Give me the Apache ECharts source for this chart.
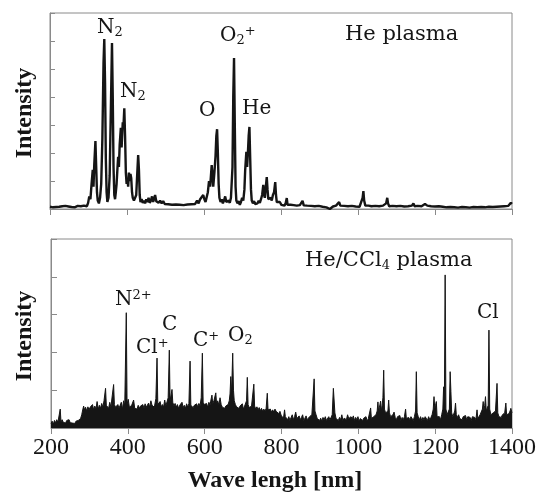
<!DOCTYPE html>
<html>
<head>
<meta charset="utf-8">
<script src="https://cdn.jsdelivr.net/npm/echarts@6/dist/echarts.min.js"></script>
<style>
html,body{margin:0;padding:0;background:#fff;}
#chart{width:539px;height:493px;}
</style>
</head>
<body>
<div id="chart"></div>
<script>
// wavelength ticks (nm)
var waveTicks = [200, 400, 600, 800, 1000, 1200, 1400];

// He plasma spectrum [wavelength nm, intensity a.u.]
var heSpectrum = [
  [200,0.08],[204,0.11],[208,0.06],[212,0.1],[216,0.07],[220,0.12],[224,0.08],[228,0.05],[232,0.1],[236,0.07],
  [240,0.11],[244,0.06],[248,0.09],[252,0.12],[256,0.07],[260,0.1],[264,0.06],[268,0.09],[272,0.11],[276,0.07],
  [280,0.1],[284,0.08],[288,0.12],[292,0.07],[296,0.1],[299,0.22],[302,0.45],[305,0.35],[308,0.9],[311,1.4],
  [313,0.8],[315,1.6],[318,2.43],[320,1.5],[322,0.6],[324,0.3],[327,0.2],[330,0.4],[333,0.9],[336,2.5],
  [339,5.2],[341,6.07],[343,4.5],[345,1.8],[347,0.6],[349,0.25],[352,0.4],[355,1.2],[358,3.5],[361,5.93],
  [363,4.0],[365,1.5],[367,0.5],[369,0.35],[371,0.6],[373,0.9],[375,1.4],[377,1.86],[379,1.5],[381,2.3],
  [384,2.9],[386,2.2],[389,3.1],[391,3.0],[393,3.6],[395,2.6],[397,1.3],[399,0.9],[401,1.1],[403,0.8],
  [405,1.3],[407,1.0],[409,1.25],[411,1.1],[413,0.6],[415,0.4],[418,0.3],[421,0.35],[424,0.5],[426,1.1],
  [429,1.93],[431,1.4],[433,0.5],[435,0.25],[438,0.35],[441,0.22],[444,0.3],[447,0.2],[450,0.35],[453,0.25],
  [456,0.4],[459,0.22],[462,0.3],[465,0.45],[468,0.25],[473,0.5],[476,0.28],[479,0.35],[482,0.22],[486,0.3],
  [490,0.2],[494,0.28],[498,0.18],[502,0.25],[507,0.17],[512,0.22],[517,0.15],[522,0.2],[527,0.16],[532,0.22],
  [537,0.15],[542,0.18],[547,0.14],[552,0.2],[557,0.16],[562,0.22],[567,0.17],[572,0.24],[577,0.18],[582,0.3],
  [586,0.2],[590,0.35],[594,0.3],[598,0.5],[601,0.35],[604,0.25],[607,0.3],[610,0.6],[613,1.0],[616,0.8],
  [620,1.57],[622,1.2],[624,0.8],[627,1.3],[630,1.9],[632,2.6],[634,2.85],[636,2.0],[638,0.9],[640,0.4],
  [643,0.25],[646,0.35],[649,0.2],[652,0.3],[655,0.45],[658,0.25],[661,0.2],[664,0.3],[667,0.22],[670,0.4],
  [674,1.5],[676,4.0],[678,5.39],[680,3.0],[682,0.8],[684,0.3],[687,0.2],[690,0.28],[693,0.15],[696,0.25],
  [699,0.4],[702,0.3],[705,0.7],[707,1.4],[710,2.04],[712,1.5],[714,2.0],[716,2.6],[718,2.93],[720,1.8],
  [722,0.7],[724,0.3],[727,0.2],[730,0.28],[733,0.18],[736,0.25],[739,0.2],[742,0.3],[745,0.22],[748,0.35],
  [751,0.5],[754,0.86],[756,0.5],[758,0.4],[760,0.7],[763,1.14],[765,0.7],[767,0.35],[770,0.3],[773,0.4],
  [776,0.3],[779,0.5],[782,0.6],[785,0.96],[787,0.5],[789,0.25],[793,0.2],[797,0.25],[801,0.15],[805,0.2],
  [809,0.12],[812,0.2],[815,0.39],[817,0.15],[821,0.12],[825,0.15],[829,0.1],[833,0.14],[837,0.09],[841,0.12],
  [845,0.1],[849,0.14],[853,0.18],[856,0.29],[859,0.13],[863,0.1],[868,0.12],[873,0.08],[878,0.11],[883,0.08],
  [888,0.1],[893,0.07],[898,0.11],[903,0.13],[908,0.08],[913,0.1],[918,0.06],[923,0.02],[927,0],[931,0.05],
  [935,0.09],[939,0.07],[943,0.12],[947,0.18],[951,0.25],[954,0.12],[959,0.09],[964,0.11],[969,0.07],[974,0.1],
  [979,0.08],[984,0.11],[989,0.07],[994,0.09],[999,0.12],[1004,0.08],[1009,0.15],[1012,0.4],[1014,0.64],[1016,0.3],
  [1019,0.12],[1023,0.09],[1027,0.12],[1031,0.07],[1035,0.1],[1040,0.08],[1045,0.11],[1050,0.07],[1055,0.1],[1060,0.08],
  [1065,0.12],[1070,0.09],[1073,0.2],[1076,0.4],[1078,0.2],[1081,0.1],[1085,0.08],[1090,0.11],[1095,0.07],[1100,0.1],
  [1105,0.08],[1110,0.11],[1115,0.06],[1120,0.09],[1125,0.07],[1130,0.1],[1135,0.08],[1140,0.12],[1144,0.2],[1147,0.1],
  [1151,0.08],[1155,0.11],[1160,0.07],[1165,0.1],[1170,0.12],[1174,0.18],[1177,0.25],[1180,0.12],[1185,0.08],[1190,0.1],
  [1195,0.06],[1200,0.09],[1205,0.07],[1210,0.1],[1215,0.05],[1220,0.08],[1225,0.1],[1230,0.06],[1235,0.09],[1240,0.07],
  [1245,0.1],[1250,0.06],[1255,0.08],[1260,0.05],[1265,0.09],[1270,0.07],[1275,0.1],[1280,0.06],[1285,0.08],[1290,0.05],
  [1295,0.09],[1300,0.07],[1305,0.1],[1310,0.06],[1315,0.09],[1320,0.07],[1325,0.1],[1330,0.06],[1335,0.09],[1340,0.08],
  [1345,0.11],[1350,0.07],[1355,0.1],[1360,0.08],[1365,0.12],[1370,0.09],[1375,0.13],[1380,0.1],[1385,0.14],[1390,0.11],
  [1394,0.16],[1397,0.22],[1400,0.18]
];

// He/CCl4 plasma spectrum [wavelength nm, intensity a.u.]
var ccl4Spectrum = [
  [200,0.12],[203,0.18],[206,0.1],[209,0.2],[212,0.14],[215,0.22],[218,0.15],[221,0.2],[224,0.5],[226,0.16],
  [229,0.22],[232,0.15],[235,0.18],[238,0.13],[241,0.2],[244,0.16],[247,0.22],[250,0.14],[253,0.19],[256,0.13],
  [259,0.17],[262,0.12],[265,0.18],[268,0.14],[271,0.2],[274,0.16],[277,0.25],
  [280,0.35],[283,0.5],[285,0.58],[287,0.48],[290,0.55],[293,0.45],[296,0.56],[299,0.48],[302,0.55],[305,0.5],
  [308,0.62],[311,0.48],[314,0.58],[317,0.5],[320,0.7],[323,0.5],[326,0.6],[329,0.52],[332,0.65],[335,0.55],
  [338,0.72],[342,1.05],[344,0.6],[347,0.62],[350,0.52],[353,0.68],[356,0.55],[359,0.82],[363,1.15],[365,0.62],
  [368,0.55],[371,0.5],[374,0.62],[377,0.52],[380,0.6],[383,0.68],[386,0.5],[389,0.72],[392,0.6],[396,3.05],
  [398,0.62],[401,0.76],[404,0.55],[407,0.52],[410,0.6],[413,0.55],[415,0.74],[418,0.52],[421,0.56],[424,0.5],
  [427,0.6],[430,0.52],[433,0.58],[436,0.54],[439,0.62],[442,0.52],[445,0.64],[448,0.55],[451,0.6],[454,0.66],
  [457,0.55],[460,0.72],[463,0.6],[466,0.64],[469,0.55],[473,0.78],[476,1.85],[478,0.62],[481,0.58],[484,0.7],
  [487,0.56],[490,0.62],[493,0.55],[496,0.74],[499,0.58],[502,0.62],[505,0.8],[508,2.06],[510,0.72],[513,0.76],
  [515,1.02],[517,0.68],[520,0.58],[523,0.65],[526,0.55],[529,0.62],[532,0.52],[535,0.6],[538,0.55],[541,0.68],
  [544,0.54],[547,0.6],[550,0.52],[553,0.64],[556,0.55],[559,0.65],[562,1.77],[564,0.6],[567,0.62],[570,0.54],
  [573,0.6],[576,0.55],[579,0.64],[582,0.56],[585,0.65],[588,0.58],[591,0.8],[594,1.98],[596,0.68],[599,0.62],
  [602,0.58],[605,0.65],[608,0.55],[611,0.68],[614,0.6],[617,0.78],[619,0.87],[621,0.64],[624,0.72],[627,0.68],
  [629,0.93],[631,0.64],[634,0.72],[637,0.6],[640,0.8],[643,0.62],[646,0.55],[649,0.6],[652,0.52],[655,0.58],
  [658,0.54],[661,0.62],[664,0.72],[666,0.9],[668,1.36],[670,0.9],[673,1.98],[675,1.0],[677,0.72],[680,0.62],
  [683,0.56],[686,0.6],[689,0.52],[692,0.58],[695,0.54],[698,0.64],[701,0.5],[704,0.58],[707,0.54],[709,0.72],
  [711,1.34],[713,0.62],[716,0.54],[719,0.5],[722,0.58],[725,0.62],[728,1.16],[730,0.58],[733,0.5],[736,0.56],
  [739,0.48],[742,0.54],[745,0.46],[748,0.52],[751,0.44],[754,0.5],[757,0.44],[760,0.52],[763,0.92],[765,0.48],
  [768,0.44],[771,0.5],[774,0.42],[777,0.48],[780,0.42],[783,0.5],[786,0.44],[790,0.48],[793,0.38],[796,0.44],
  [799,0.34],[802,0.38],[805,0.25],[808,0.48],[810,0.3],[813,0.35],[816,0.22],[819,0.3],[822,0.2],[825,0.28],
  [828,0.35],[831,0.22],[834,0.3],[837,0.42],[840,0.25],[843,0.2],[846,0.32],[849,0.22],[852,0.28],[855,0.35],
  [858,0.2],[861,0.26],[864,0.32],[867,0.22],[870,0.18],[873,0.3],[876,0.25],[879,0.35],[882,0.4],[885,1.3],
  [887,0.45],[890,0.35],[893,0.25],[896,0.3],[899,0.2],[902,0.26],[905,0.18],[908,0.28],[911,0.22],[914,0.3],
  [917,0.2],[920,0.25],[923,0.3],[926,0.22],[929,0.28],[932,0.35],[935,1.05],[937,1.09],[939,0.4],[942,0.25],
  [945,0.3],[948,0.2],[951,0.28],[954,0.22],[957,0.35],[960,0.2],[963,0.26],[966,0.3],[969,0.22],[972,0.35],
  [975,0.25],[978,0.2],[981,0.3],[984,0.24],[987,0.32],[990,0.2],[993,0.28],[996,0.22],[999,0.3],[1002,0.18],
  [1005,0.25],[1008,0.3],[1011,0.2],[1014,0.26],[1017,0.22],[1020,0.3],[1023,0.18],[1026,0.25],[1029,0.2],[1032,0.53],
  [1034,0.25],[1037,0.2],[1040,0.3],[1043,0.25],[1046,0.35],[1049,0.45],[1051,0.69],[1053,0.4],[1055,0.55],[1058,0.71],
  [1060,0.45],[1062,0.6],[1064,0.8],[1066,1.53],[1068,0.5],[1071,0.4],[1074,0.35],[1077,0.45],[1079,0.74],[1081,0.4],
  [1084,0.3],[1087,0.25],[1090,0.35],[1093,0.42],[1096,0.28],[1099,0.22],[1102,0.3],[1105,0.25],[1108,0.33],[1111,0.2],
  [1114,0.28],[1117,0.22],[1120,0.3],[1123,0.5],[1125,0.25],[1128,0.2],[1131,0.28],[1134,0.22],[1137,0.3],[1140,0.25],
  [1143,0.2],[1146,0.3],[1149,0.45],[1151,1.49],[1153,0.4],[1156,0.3],[1159,0.22],[1162,0.3],[1165,0.2],[1168,0.28],
  [1171,0.22],[1174,0.3],[1177,0.25],[1180,0.2],[1183,0.3],[1186,0.22],[1189,0.28],[1192,0.35],[1195,0.5],[1197,0.83],
  [1199,0.5],[1201,0.6],[1203,0.7],[1205,0.3],[1208,0.25],[1211,0.3],[1214,0.22],[1217,0.35],[1220,0.5],[1222,1.09],
  [1224,0.6],[1226,4.05],[1228,0.5],[1231,0.35],[1234,0.3],[1237,0.5],[1239,1.49],[1241,0.96],[1243,0.4],[1246,0.3],
  [1249,0.35],[1251,0.45],[1253,0.66],[1255,0.35],[1258,0.28],[1261,0.35],[1264,0.25],[1267,0.3],[1270,0.22],[1273,0.3],
  [1276,0.25],[1279,0.33],[1282,0.22],[1285,0.3],[1288,0.25],[1291,0.28],[1294,0.2],[1297,0.3],[1300,0.25],[1303,0.28],
  [1306,0.22],[1309,0.48],[1311,0.25],[1314,0.3],[1317,0.35],[1320,0.4],[1323,0.5],[1325,0.7],[1327,0.45],[1329,0.6],
  [1331,0.83],[1333,0.45],[1336,0.5],[1338,0.6],[1340,2.59],[1342,0.5],[1345,0.35],[1348,0.3],[1351,0.4],[1354,0.35],
  [1357,0.45],[1359,0.5],[1361,1.18],[1363,0.4],[1366,0.3],[1369,0.35],[1372,0.28],[1375,0.35],[1378,0.3],[1381,0.4],
  [1384,0.66],[1386,0.35],[1389,0.3],[1392,0.38],[1395,0.45],[1397,0.52],[1400,0.4]
];

var frameColor = '#8a8a8a';
var ink = '#151515';
var serifLbl = 'DejaVu Serif';

var rich = {
  m: {fontFamily: serifLbl, fontSize: 20, lineHeight: 22, color: ink},
  sub: {fontFamily: serifLbl, fontSize: 13, verticalAlign: 'bottom', color: ink},
  sup: {fontFamily: serifLbl, fontSize: 13, verticalAlign: 'top', color: ink},
  p: {fontFamily: serifLbl, fontSize: 21, lineHeight: 22, color: ink}
};

function lbl(x, y, txt) {
  return {
    type: 'text', x: x, y: y, silent: true,
    style: {text: txt, rich: rich, align: 'left', verticalAlign: 'middle', fill: ink}
  };
}

function axisTitle(x, y, txt, rot) {
  return {
    type: 'text', x: x, y: y, rotation: rot || 0, silent: true,
    style: {
      text: txt, fill: ink, align: 'center', verticalAlign: 'middle',
      font: 'bold 24px "Liberation Serif"'
    }
  };
}

var xBase = {
  type: 'value',
  min: waveTicks[0],
  max: waveTicks[waveTicks.length - 1],
  interval: waveTicks[1] - waveTicks[0],
  axisLine: {lineStyle: {color: frameColor, width: 1}},
  axisTick: {show: true, inside: false, length: 6, lineStyle: {color: frameColor}},
  splitLine: {show: false}
};

var chart = echarts.init(document.getElementById('chart'));
chart.setOption({
  animation: false,
  backgroundColor: '#fff',
  grid: [
    {left: 50, right: 27, top: 13, height: 196, show: true, borderColor: frameColor, borderWidth: 1},
    {left: 51, right: 24, top: 239, height: 189, show: true, borderColor: frameColor, borderWidth: 1}
  ],
  xAxis: [
    Object.assign({}, xBase, {gridIndex: 0, axisLabel: {show: false}}),
    Object.assign({}, xBase, {
      gridIndex: 1,
      axisLabel: {
        show: true, margin: 8, color: ink, fontFamily: 'Liberation Serif', fontSize: 24,
        formatter: function (v) { return String(v); }
      }
    })
  ],
  yAxis: [
    {
      type: 'value', gridIndex: 0, min: 0, max: 7, interval: 1,
      axisLine: {show: true, lineStyle: {color: frameColor}},
      axisTick: {show: true, inside: true, length: 5, lineStyle: {color: frameColor}},
      axisLabel: {show: false}, splitLine: {show: false}
    },
    {
      type: 'value', gridIndex: 1, min: 0, max: 5, interval: 1,
      axisLine: {show: true, lineStyle: {color: frameColor}},
      axisTick: {show: true, inside: true, length: 6, lineStyle: {color: frameColor}},
      axisLabel: {show: false}, splitLine: {show: false}
    }
  ],
  series: [
    {
      type: 'line', xAxisIndex: 0, yAxisIndex: 0, data: heSpectrum,
      showSymbol: false, symbol: 'none', silent: true,
      lineStyle: {color: ink, width: 2.4}
    },
    {
      type: 'line', xAxisIndex: 1, yAxisIndex: 1, data: ccl4Spectrum,
      showSymbol: false, symbol: 'none', silent: true,
      lineStyle: {color: ink, width: 1},
      areaStyle: {color: ink, opacity: 1}
    }
  ],
  graphic: [
    axisTitle(25, 113, 'Intensity', Math.PI / 2),
    axisTitle(25, 336, 'Intensity', Math.PI / 2),
    axisTitle(275, 481, 'Wave lengh [nm]'),
    lbl(97, 28, '{m|N}{sub|2}'),
    lbl(120, 92, '{m|N}{sub|2}'),
    lbl(199, 111, '{m|O}'),
    lbl(220, 36, '{m|O}{sub|2}{sup|+}'),
    lbl(242, 109, '{m|He}'),
    lbl(345, 35, '{p|He plasma}'),
    lbl(115, 300, '{m|N}{sup|2+}'),
    lbl(136, 348, '{m|Cl}{sup|+}'),
    lbl(162, 325, '{m|C}'),
    lbl(193, 341, '{m|C}{sup|+}'),
    lbl(228, 336, '{m|O}{sub|2}'),
    lbl(305, 261, '{p|He/CCl}{sub|4}{p| plasma}'),
    lbl(477, 313, '{m|Cl}')
  ]
});
</script>
</body>
</html>
